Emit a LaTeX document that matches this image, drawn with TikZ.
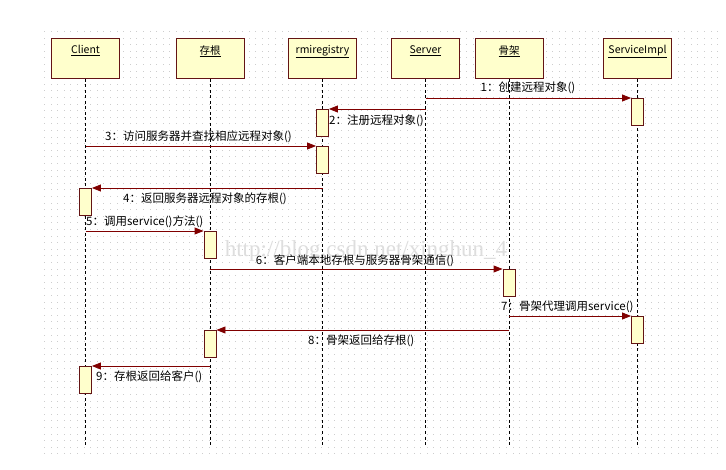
\documentclass[tikz,border=0pt]{standalone}
\usepackage{fontspec}
\setmainfont{Noto Sans CJK SC}
\newfontfamily\wmfont{Liberation Serif}
\usetikzlibrary{arrows.meta}
\definecolor{boxfill}{RGB}{255,255,204}
\definecolor{boxdraw}{RGB}{100,20,20}
\definecolor{msgcol}{RGB}{128,0,0}
\definecolor{gridcol}{RGB}{205,205,205}
\definecolor{wmcol}{RGB}{222,222,222}
\tikzset{
  headbox/.style={draw=boxdraw, fill=boxfill, line width=1pt, minimum width=68pt, minimum height=40pt, anchor=north, inner sep=0pt},
  headtitle/.style={font=\fontsize{10.5}{12}\selectfont},
  actbox/.style={draw=boxdraw, fill=boxfill, line width=0.9pt, minimum width=12pt, minimum height=27pt, anchor=north, inner sep=0pt},
  lifeline/.style={black, line width=0.8pt, dash pattern=on 3pt off 2.5pt},
  msg/.style={msgcol, line width=0.9pt, -{Triangle[length=9pt,width=7pt]}},
  msglabel/.style={font=\fontsize{11.5}{13}\selectfont, inner sep=0pt, text=black},
}
\begin{document}
\begin{tikzpicture}[x=1pt,y=-1pt]
\useasboundingbox (0,0) rectangle (726,470);
\fill[white] (0,0) rectangle (726,470);
% dotted grid
\foreach \i in {0,...,102} {
  \foreach \j in {0,...,64} {
    \fill[gridcol] ({44+\i*6.6},{31+\j*6.6}) rectangle ++(1,1);
  }
}
% watermark
\node[font=\wmfont\fontsize{23}{26}\selectfont, text=wmcol, inner sep=0pt] (wm) at (366,251) {http://blog.csdn.net/xinghun\_4};
% heads
\node[headbox, label={[headtitle, anchor=north, yshift=-4pt]north:\underline{Client}}] (client) at (85.5,38) {};
\node[headbox, label={[headtitle, anchor=north, yshift=-4pt]north:\underline{存根}}] (stub) at (210,38) {};
\node[headbox, label={[headtitle, anchor=north, yshift=-4pt]north:\underline{rmiregistry}}] (rmi) at (322.5,38) {};
\node[headbox, label={[headtitle, anchor=north, yshift=-4pt]north:\underline{Server}}] (server) at (425.5,38) {};
\node[headbox, label={[headtitle, anchor=north, yshift=-4pt]north:\underline{骨架}}] (skel) at (509,38) {};
\node[headbox, label={[headtitle, anchor=north, yshift=-4pt]north:\underline{ServiceImpl}}] (impl) at (637.5,38) {};
% lifelines
\foreach \n in {client,stub,rmi,server,skel,impl} {
  \draw[lifeline] (\n.south) -- ++(0,367);
}
% activation boxes
\node[actbox] (a1) at (637.5,98) {};
\node[actbox] (a2) at (322.5,109) {};
\node[actbox] (a3) at (322.5,146) {};
\node[actbox] (a4) at (85.5,188) {};
\node[actbox] (a5) at (210,231) {};
\node[actbox] (a6) at (509,269) {};
\node[actbox] (a7) at (637.5,316) {};
\node[actbox] (a8) at (210,330) {};
\node[actbox] (a9) at (85.5,366) {};
% messages
\draw[msg] (server.south |- a1.north) -- (a1.north west);
\draw[msg] (server.south |- a2.north) -- (a2.north east);
\draw[msg] (client.south |- a3.north) -- (a3.north west);
\draw[msg] (rmi.south |- a4.north) -- (a4.north east);
\draw[msg] (client.south |- a5.north) -- (a5.north west);
\draw[msg] (stub.south |- a6.north) -- (a6.north west);
\draw[msg] (skel.south |- a7.north) -- (a7.north west);
\draw[msg] (skel.south |- a8.north) -- (a8.north east);
\draw[msg] (stub.south |- a9.north) -- (a9.north east);
% labels
\node[msglabel] (l1) at (528,88) {1：创建远程对象()};
\node[msglabel, anchor=west] (l2) at (329,121) {2：注册远程对象()};
\node[msglabel] (l3) at (198.5,137) {3：访问服务器并查找相应远程对象()};
\node[msglabel, anchor=west] (l4) at (123,199) {4：返回服务器远程对象的存根()};
\node[msglabel, anchor=west] (l5) at (86,222) {5：调用service()方法()};
\node[msglabel] (l6) at (355,261) {6：客户端本地存根与服务器骨架通信()};
\node[msglabel, anchor=west] (l7) at (501,307) {7：骨架代理调用service()};
\node[msglabel, anchor=west] (l8) at (308,341) {8：骨架返回给存根()};
\node[msglabel, anchor=west] (l9) at (96,377) {9：存根返回给客户()};
\end{tikzpicture}
\end{document}
